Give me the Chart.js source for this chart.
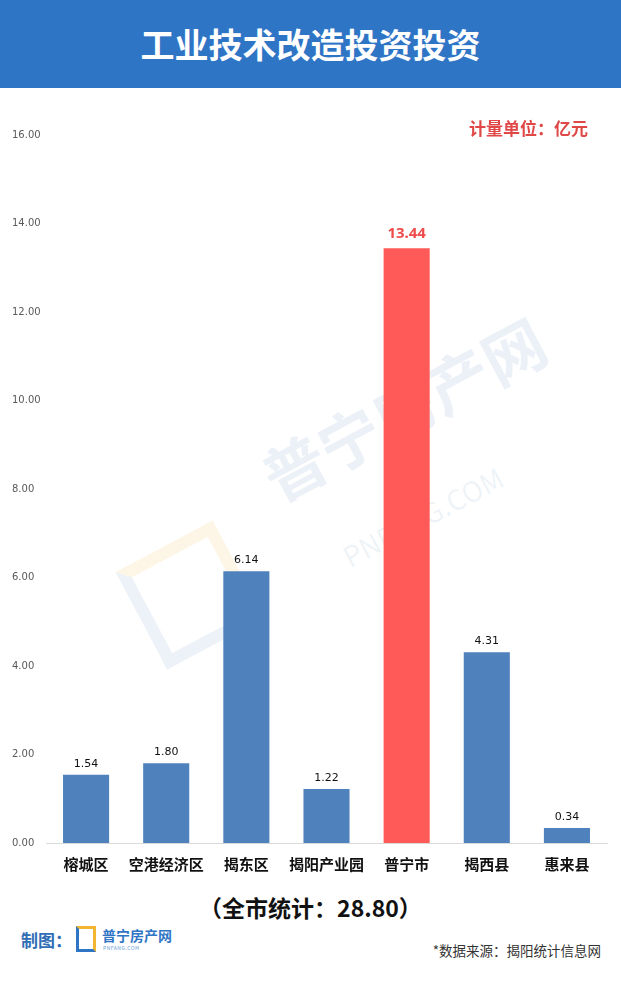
<!DOCTYPE html>
<html>
<head>
<meta charset="utf-8">
<script src="https://cdn.jsdelivr.net/npm/chart.js@4.4.1/dist/chart.umd.min.js"></script>
<style>
  body { margin: 0; background: #fff; font-family: "Noto Sans CJK SC", "Noto Sans", sans-serif; }
  #page { position: relative; width: 621px; height: 983px; overflow: hidden; background: #fff; }
  #header { position: absolute; left: 0; top: 0; width: 621px; height: 88px; background: #2f75c6;
            color: #fff; font-weight: bold; font-size: 34px; text-align: center; line-height: 88px; }
  #unit { position: absolute; right: 33px; top: 115px; color: #e04848; font-weight: bold; font-size: 17px; }
  #chartBox { position: absolute; left: 0; top: 100px; width: 621px; height: 790px; }
  #total { position: absolute; left: 0; width: 621px; top: 890px; text-align: center;
           font-weight: bold; font-size: 23px; color: #111; }
  #maker { position: absolute; left: 21px; top: 927px; color: #2f6db5; font-weight: bold; font-size: 17px; }
  #logo { position: absolute; left: 76px; top: 926px; width: 20px; height: 26px; border: 3px solid #2f75c6;
          border-right-color: #f2b632; border-top-color: #f2b632; box-sizing: border-box; }
  #logoText { position: absolute; left: 102px; top: 925px; color: #2f75c6; font-weight: bold; font-size: 14px; }
  #logoSub { position: absolute; left: 103px; top: 944px; color: #6aa0d8; font-size: 5px; letter-spacing: 0.5px; }
  #source { position: absolute; right: 20px; top: 940px; color: #333; font-size: 13.5px; }
  #wm1 { position: absolute; left: 245px; top: 440px; transform: rotate(-28deg); transform-origin: left top;
         color: rgba(79,129,189,0.11); font-weight: bold; font-size: 62px; white-space: nowrap; }
  #wm2 { position: absolute; left: 335px; top: 540px; transform: rotate(-28deg); transform-origin: left top;
         color: rgba(79,129,189,0.10); font-size: 28px; white-space: nowrap; }
  #wmBox { position: absolute; left: 135px; top: 540px; width: 110px; height: 110px; transform: rotate(-28deg);
           border: 12px solid rgba(79,129,189,0.10); border-top-color: rgba(242,182,50,0.12);
           border-right-color: rgba(242,182,50,0.12); box-sizing: border-box; }
</style>
</head>
<body>
<div id="page">
  <div id="header">工业技术改造投资投资</div>
  <div id="wmBox"></div>
  <div id="wm1">普宁房产网</div>
  <div id="wm2">PNFANG.COM</div>
  <div id="chartBox"><canvas id="investChart"></canvas></div>
  <div id="unit">计量单位：亿元</div>
  <div id="total">（全市统计：28.80）</div>
  <div id="maker">制图：</div>
  <div id="logo"></div>
  <div id="logoText">普宁房产网</div>
  <div id="logoSub">PNFANG.COM</div>
  <div id="source">*数据来源：揭阳统计信息网</div>
</div>
<script>
// 数据
const districts = ['榕城区', '空港经济区', '揭东区', '揭阳产业园', '普宁市', '揭西县', '惠来县'];
const investValues = [1.54, 1.80, 6.14, 1.22, 13.44, 4.31, 0.34];
const highlightName = '普宁市';

const blue = '#4f81bd';
const red = '#ff5a57';
const barColors = districts.map(d => d === highlightName ? red : blue);

// 柱顶数值标签
const valueLabels = {
  id: 'valueLabels',
  afterDatasetsDraw(chart) {
    const ctx = chart.ctx;
    const meta = chart.getDatasetMeta(0);
    ctx.save();
    ctx.textAlign = 'center';
    meta.data.forEach((bar, i) => {
      const hot = districts[i] === highlightName;
      ctx.fillStyle = hot ? '#f04a4a' : '#111';
      ctx.font = hot ? 'bold 15px "Noto Sans", sans-serif' : '11px "DejaVu Sans", sans-serif';
      ctx.fillText(investValues[i].toFixed(2), bar.x, bar.y - (hot ? 10 : 8));
    });
    ctx.restore();
  }
};

new Chart(document.getElementById('investChart'), {
  type: 'bar',
  data: {
    labels: districts,
    datasets: [{
      data: investValues,
      backgroundColor: barColors,
      borderWidth: 0,
      categoryPercentage: 1,
      barPercentage: 0.575
    }]
  },
  options: {
    responsive: true,
    maintainAspectRatio: false,
    animation: false,
    layout: { padding: { left: 12, right: 14, top: 35, bottom: 0 } },
    plugins: { legend: { display: false }, tooltip: { enabled: false } },
    scales: {
      x: {
        grid: { display: false, drawTicks: false },
        border: { color: '#d9d9d9', width: 1 },
        ticks: {
          color: '#111',
          padding: 12,
          maxRotation: 0,
          minRotation: 0,
          autoSkip: false,
          font: { family: '"Noto Sans CJK SC"', size: 15, weight: 'bold' }
        },
        afterFit: s => { s.height = 47; }
      },
      y: {
        min: 0,
        max: 16,
        grid: { display: false, drawTicks: false },
        border: { display: false },
        ticks: {
          stepSize: 2,
          color: '#595959',
          crossAlign: 'far',
          padding: 4,
          font: { family: '"DejaVu Sans"', size: 10 },
          callback: v => v.toFixed(2)
        },
        afterFit: s => { s.width = 34; }
      }
    }
  },
  plugins: [valueLabels]
});
</script>
</body>
</html>
